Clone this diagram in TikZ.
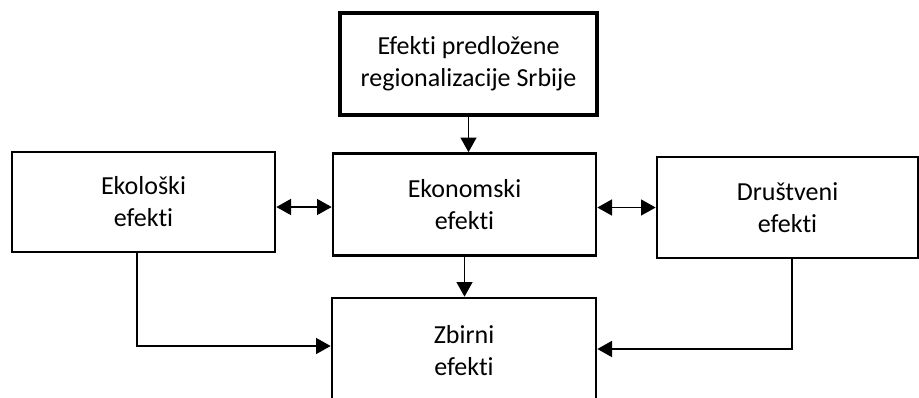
\documentclass[tikz,border=0pt]{standalone}
\usepackage{fontspec}
\setmainfont{Carlito}[Ligatures=NoCommon]
\usetikzlibrary{arrows.meta,positioning}

\begin{document}
\begin{tikzpicture}[x=0.75pt,y=-0.75pt,
  box/.style={draw,line width=2pt,align=center,inner sep=0pt,
    font=\fontsize{19.5}{24}\selectfont},
  conn/.style={line width=1.1pt,-{Triangle[width=12pt,length=11pt]}},
  both/.style={line width=1.1pt,{Triangle[width=12pt,length=11pt]}-{Triangle[width=12pt,length=11pt]}}]
\useasboundingbox (0,0) rectangle (919,397);

% Boxes
\node[box,line width=3.2pt,minimum width=192.75pt,minimum height=76.5pt] (regio) at (468.5,64) {Efekti predložene\\regionalizacije Srbije};
\node[box,minimum width=197.25pt,minimum height=75pt] (ekol) at (143.5,202) {Ekološki\\efekti};
\node[box,minimum width=197.25pt,minimum height=76.5pt] (ekon) at (464.5,204.5) {Ekonomski\\efekti};
\node[box,minimum width=195.75pt,minimum height=75.75pt] (drus) at (787.5,207.5) {Društveni\\efekti};
\node[box,minimum width=198pt,minimum height=79.5pt] (zbir) at (464,351) {Zbirni\\efekti};

% Arrows
\draw[conn] (regio.south) -- (regio.south |- ekon.north);
\draw[conn] (ekon.south) -- (ekon.south |- zbir.north);
\coordinate (lmid) at ([yshift=-3.75pt]ekol.east);
\draw[both] (lmid) -- (lmid -| ekon.west);
\draw[both] (drus.west -| ekon.east) -- (drus.west);

% Side lines to the sum
\coordinate (lbend) at (137,346);
\coordinate (rbend) at (792,349);
\draw[conn] (lbend |- ekol.south) -- (lbend) -- (lbend -| zbir.west);
\draw[conn] (rbend |- drus.south) -- (rbend) -- (rbend -| zbir.east);
\end{tikzpicture}
\end{document}
